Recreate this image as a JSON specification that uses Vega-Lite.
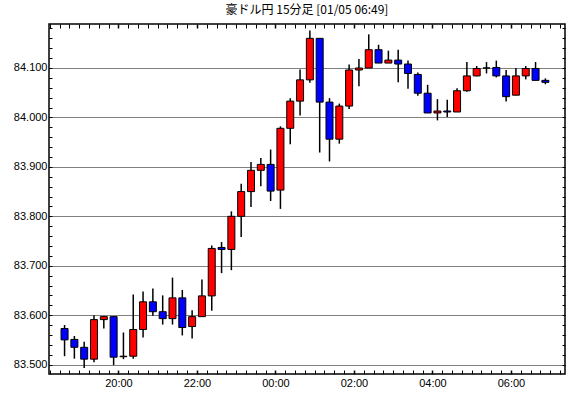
{
  "$schema": "https://vega.github.io/schema/vega-lite/v6.json",
  "width": 516,
  "height": 350,
  "autosize": {"type": "none"},
  "padding": {"left": 49, "top": 24, "right": 5, "bottom": 24},
  "background": "white",
  "title": {"text": "豪ドル円 15分足 [01/05 06:49]", "font": "Noto Sans CJK JP", "fontSize": 12, "fontWeight": "normal", "color": "black", "offset": 5, "anchor": "middle"},
  "config": {
    "view": {"stroke": "black", "strokeWidth": 1.5},
    "axis": {"labelFont": "Liberation Sans", "labelFontSize": 11, "labelColor": "black", "domain": false, "tickColor": "black", "title": null, "grid": false}
  },
  "data": {"values": [
    {"t": "2025-01-04T18:30:00Z", "open": 83.573, "high": 83.580, "low": 83.517, "close": 83.550},
    {"t": "2025-01-04T18:45:00Z", "open": 83.551, "high": 83.558, "low": 83.512, "close": 83.535},
    {"t": "2025-01-04T19:00:00Z", "open": 83.535, "high": 83.546, "low": 83.493, "close": 83.511},
    {"t": "2025-01-04T19:15:00Z", "open": 83.511, "high": 83.600, "low": 83.505, "close": 83.591},
    {"t": "2025-01-04T19:30:00Z", "open": 83.591, "high": 83.598, "low": 83.573, "close": 83.597},
    {"t": "2025-01-04T19:45:00Z", "open": 83.597, "high": 83.598, "low": 83.499, "close": 83.515},
    {"t": "2025-01-04T20:00:00Z", "open": 83.516, "high": 83.565, "low": 83.511, "close": 83.517},
    {"t": "2025-01-04T20:15:00Z", "open": 83.517, "high": 83.642, "low": 83.512, "close": 83.571},
    {"t": "2025-01-04T20:30:00Z", "open": 83.571, "high": 83.648, "low": 83.555, "close": 83.627},
    {"t": "2025-01-04T20:45:00Z", "open": 83.627, "high": 83.654, "low": 83.599, "close": 83.607},
    {"t": "2025-01-04T21:00:00Z", "open": 83.607, "high": 83.640, "low": 83.581, "close": 83.593},
    {"t": "2025-01-04T21:15:00Z", "open": 83.593, "high": 83.676, "low": 83.581, "close": 83.635},
    {"t": "2025-01-04T21:30:00Z", "open": 83.635, "high": 83.651, "low": 83.559, "close": 83.575},
    {"t": "2025-01-04T21:45:00Z", "open": 83.577, "high": 83.610, "low": 83.553, "close": 83.597},
    {"t": "2025-01-04T22:00:00Z", "open": 83.597, "high": 83.672, "low": 83.597, "close": 83.639},
    {"t": "2025-01-04T22:15:00Z", "open": 83.639, "high": 83.741, "low": 83.609, "close": 83.735},
    {"t": "2025-01-04T22:30:00Z", "open": 83.737, "high": 83.748, "low": 83.685, "close": 83.733},
    {"t": "2025-01-04T22:45:00Z", "open": 83.733, "high": 83.810, "low": 83.691, "close": 83.800},
    {"t": "2025-01-04T23:00:00Z", "open": 83.800, "high": 83.866, "low": 83.758, "close": 83.850},
    {"t": "2025-01-04T23:15:00Z", "open": 83.850, "high": 83.910, "low": 83.819, "close": 83.893},
    {"t": "2025-01-04T23:30:00Z", "open": 83.893, "high": 83.918, "low": 83.861, "close": 83.905},
    {"t": "2025-01-04T23:45:00Z", "open": 83.905, "high": 83.935, "low": 83.831, "close": 83.851},
    {"t": "2025-01-05T00:00:00Z", "open": 83.853, "high": 83.982, "low": 83.815, "close": 83.978},
    {"t": "2025-01-05T00:15:00Z", "open": 83.978, "high": 84.039, "low": 83.946, "close": 84.033},
    {"t": "2025-01-05T00:30:00Z", "open": 84.033, "high": 84.097, "low": 84.004, "close": 84.076},
    {"t": "2025-01-05T00:45:00Z", "open": 84.076, "high": 84.176, "low": 84.070, "close": 84.160},
    {"t": "2025-01-05T01:00:00Z", "open": 84.160, "high": 84.160, "low": 83.929, "close": 84.031},
    {"t": "2025-01-05T01:15:00Z", "open": 84.031, "high": 84.039, "low": 83.911, "close": 83.956},
    {"t": "2025-01-05T01:30:00Z", "open": 83.956, "high": 84.028, "low": 83.947, "close": 84.023},
    {"t": "2025-01-05T01:45:00Z", "open": 84.023, "high": 84.107, "low": 84.017, "close": 84.096},
    {"t": "2025-01-05T02:00:00Z", "open": 84.096, "high": 84.118, "low": 84.063, "close": 84.100},
    {"t": "2025-01-05T02:15:00Z", "open": 84.100, "high": 84.168, "low": 84.100, "close": 84.137},
    {"t": "2025-01-05T02:30:00Z", "open": 84.137, "high": 84.147, "low": 84.110, "close": 84.110},
    {"t": "2025-01-05T02:45:00Z", "open": 84.110, "high": 84.135, "low": 84.110, "close": 84.116},
    {"t": "2025-01-05T03:00:00Z", "open": 84.116, "high": 84.137, "low": 84.071, "close": 84.108},
    {"t": "2025-01-05T03:15:00Z", "open": 84.108, "high": 84.115, "low": 84.058, "close": 84.089},
    {"t": "2025-01-05T03:30:00Z", "open": 84.087, "high": 84.091, "low": 84.044, "close": 84.049},
    {"t": "2025-01-05T03:45:00Z", "open": 84.049, "high": 84.066, "low": 84.009, "close": 84.009},
    {"t": "2025-01-05T04:00:00Z", "open": 84.009, "high": 84.037, "low": 83.994, "close": 84.013},
    {"t": "2025-01-05T04:15:00Z", "open": 84.013, "high": 84.036, "low": 84.001, "close": 84.011},
    {"t": "2025-01-05T04:30:00Z", "open": 84.011, "high": 84.059, "low": 84.011, "close": 84.054},
    {"t": "2025-01-05T04:45:00Z", "open": 84.054, "high": 84.112, "low": 84.052, "close": 84.084},
    {"t": "2025-01-05T05:00:00Z", "open": 84.084, "high": 84.104, "low": 84.083, "close": 84.099},
    {"t": "2025-01-05T05:15:00Z", "open": 84.100, "high": 84.112, "low": 84.089, "close": 84.100},
    {"t": "2025-01-05T05:30:00Z", "open": 84.101, "high": 84.115, "low": 84.081, "close": 84.084},
    {"t": "2025-01-05T05:45:00Z", "open": 84.084, "high": 84.096, "low": 84.032, "close": 84.042},
    {"t": "2025-01-05T06:00:00Z", "open": 84.045, "high": 84.100, "low": 84.045, "close": 84.084},
    {"t": "2025-01-05T06:15:00Z", "open": 84.084, "high": 84.104, "low": 84.077, "close": 84.099},
    {"t": "2025-01-05T06:30:00Z", "open": 84.099, "high": 84.112, "low": 84.075, "close": 84.075},
    {"t": "2025-01-05T06:45:00Z", "open": 84.075, "high": 84.079, "low": 84.067, "close": 84.071}
  ]},
  "resolve": {"axis": {"x": "independent", "y": "independent"}},
  "layer": [
    {
      "mark": {"type": "rule", "color": "black", "strokeWidth": 1.5, "xOffset": 5},
      "encoding": {
        "x": {"field": "t", "type": "temporal",
          "scale": {"type": "utc", "domain": [{"year": 2025, "month": 1, "date": 4, "hours": 18, "minutes": 21, "seconds": 30, "utc": true}, {"year": 2025, "month": 1, "date": 5, "hours": 7, "minutes": 15, "utc": true}]},
          "axis": {"orient": "bottom", "tickCount": 52, "labelOverlap": false, "labelFlush": false, "labelPadding": 3, "offset": -4, "tickSize": 4,
            "labelExpr": "utcminutes(datum.value) == 0 && utchours(datum.value) % 2 == 0 ? utcFormat(datum.value, '%H:%M') : ''",
            "tickWidth": {"condition": {"test": "utcminutes(datum.value) == 0 && utchours(datum.value) % 2 == 0", "value": 1.5}, "value": 1}}},
        "y": {"field": "low", "type": "quantitative", "scale": {"domain": [83.481, 84.189], "zero": false, "nice": false},
          "axis": {"orient": "left", "tickCount": 35, "labelOverlap": false, "labelPadding": 2, "offset": -3, "tickSize": 3,
            "labelExpr": "abs(datum.value * 10 - round(datum.value * 10)) < 0.01 ? format(datum.value, '.3f') : ''",
            "grid": true, "gridDash": [1, 1], "gridColor": "black", "gridWidth": 1,
            "gridOpacity": {"condition": {"test": "abs(datum.value * 10 - round(datum.value * 10)) < 0.01", "value": 1}, "value": 0}}},
        "y2": {"field": "high"}
      }
    },
    {
      "mark": {"type": "bar", "size": 7, "xOffset": 5, "stroke": "black", "strokeWidth": 1},
      "encoding": {
        "x": {"field": "t", "type": "temporal", "axis": null},
        "y": {"field": "open", "type": "quantitative", "axis": null},
        "y2": {"field": "close"},
        "fill": {"condition": {"test": "datum.close >= datum.open", "value": "#ff0000"}, "value": "#0000ff"}
      }
    },
    {
      "mark": {"type": "rule", "opacity": 0},
      "encoding": {
        "x": {"field": "t", "type": "temporal",
          "axis": {"orient": "top", "tickCount": 52, "labels": false, "offset": -4, "tickSize": 4,
            "tickWidth": {"condition": {"test": "utcminutes(datum.value) == 0 && utchours(datum.value) % 2 == 0", "value": 1.5}, "value": 1}}},
        "y": {"field": "low", "type": "quantitative",
          "axis": {"orient": "right", "tickCount": 35, "labels": false, "offset": -3, "tickSize": 3}},
        "y2": {"field": "high"}
      }
    }
  ]
}
